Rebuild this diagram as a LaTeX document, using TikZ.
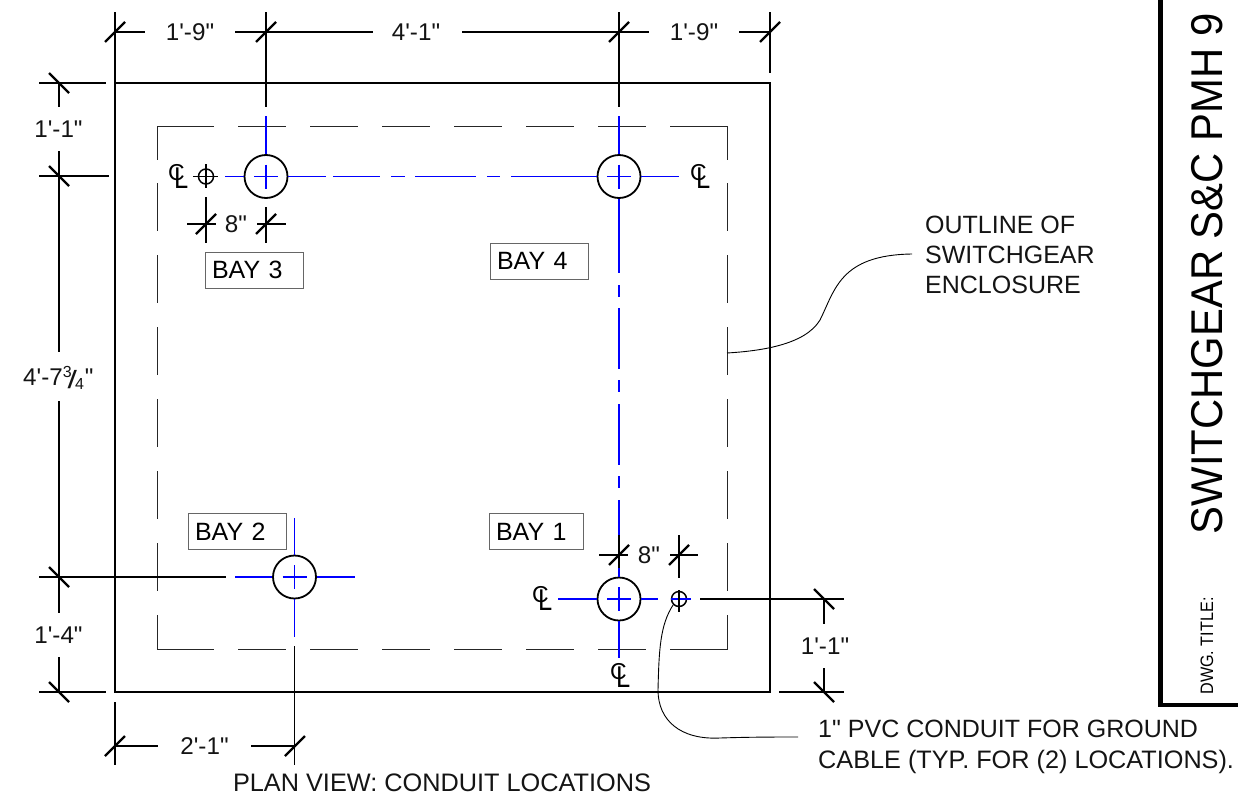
\documentclass[tikz,border=0pt]{standalone}
\usepackage{fontspec}
\newfontfamily\arl{Liberation Sans}
\tikzset{
  x=1pt,y=-1pt,
  lbl/.style={font=\arl\fontsize{25}{30}\selectfont,inner sep=0pt,text=black!92},
  lblL/.style={lbl,anchor=west},
  dimlbl/.style={lbl,font=\arl\fontsize{24.2}{30}\selectfont},
  baybox/.style={draw=black!60,line width=1pt,font=\arl\fontsize{25}{30}\selectfont,minimum height=36pt,
     text width=84pt,inner xsep=7pt,inner ysep=0pt,align=left},
  hole/.style={circle,draw=black,line width=1.8pt,minimum size=43pt,inner sep=0pt},
  smallhole/.style={circle,draw=black,line width=1.5pt,minimum size=15pt,inner sep=0pt},
  outline/.style={draw=black,line width=2pt},
  dim/.style={draw=black,line width=1.5pt},
  dimb/.style={draw=black,line width=2pt},
  tick/.style={draw=black,line width=2.4pt},
  hid/.style={draw=black!85,line width=1.25pt},
  cen/.style={draw=blue,line width=1.3pt},
  lead/.style={draw=black,line width=0.9pt},
  frame/.style={draw=black,line width=4.5pt},
  clmark/.style={font=\arl\fontsize{23}{26}\selectfont,inner sep=0pt,anchor=base west}
}
\newcommand{\clsym}{C\kern-10.6pt\raisebox{-8pt}{\fontsize{30}{32}\selectfont\scalebox{.85}[1]{L}}}
\begin{document}
\begin{tikzpicture}
\useasboundingbox (0,0) rectangle (1238,795);
% enclosure
\draw[outline] (115,83) rectangle (770,692);
% hidden outline
\draw[hid] (214,126.5)--(157.5,126.5)--(157.5,160);
\draw[hid] (670,126.5)--(727.5,126.5)--(727.5,160);
\draw[hid] (157.5,615)--(157.5,649.5)--(214,649.5);
\draw[hid] (670,649.5)--(727.5,649.5)--(727.5,615);
\foreach \a in {238,310,382,454,526,598}{
  \draw[hid] (\a,126.5)--(\a+48,126.5);
  \draw[hid] (\a,649.5)--(\a+48,649.5);}
\foreach \a in {183,255,327,399,471,543}{
  \draw[hid] (157.5,\a)--(157.5,\a+48);
  \draw[hid] (727.5,\a)--(727.5,\a+48);}
% holes
\node[hole] (h3) at (266,176.5) {};
\node[hole] (h4) at (619,176.5) {};
\node[hole] (h2) at (294.5,577) {};
\node[hole] (h1) at (619,599) {};
\node[smallhole] (g3) at (206,176.5) {};
\node[smallhole] (g1) at (679,599) {};
% centre lines
\foreach \n/\cx/\cy in {h3/266/176.5,h4/619/176.5,h2/294.5/577,h1/619/599}{
  \draw[cen] (\cx-12,\cy)--(\cx+12,\cy);
  \draw[cen] (\cx,\cy-12)--(\cx,\cy+12);}
\draw[cen] (266,116)--(h3.north);
\draw[cen] (225,176.5)--(h3.west);
\draw[cen] (h3.east)--(326,176.5);
\draw[cen] (333,176.5)--(380,176.5);
\draw[cen] (391,176.5)--(405,176.5);
\draw[cen] (415,176.5)--(476,176.5);
\draw[cen] (487,176.5)--(500,176.5);
\draw[cen] (511,176.5)--(h4.west);
\draw[cen] (h4.east)--(679,176.5);
\draw[cen] (619,116)--(h4.north);
\draw[cen] (h4.south)--(619,273);
\draw[cen] (619,285)--(619,297);
\draw[cen] (619,308)--(619,369);
\draw[cen] (619,380)--(619,392);
\draw[cen] (619,404)--(619,465);
\draw[cen] (619,476)--(619,488);
\draw[cen] (619,500)--(619,535);
\draw[cen] (619,568)--(h1.north);
\draw[cen] (h1.south)--(619,658);
\draw[cen] (558,599)--(h1.west);
\draw[cen] (h1.east)--(658,599);
\draw[cen] (671,599)--(691,599);
\draw[cen] (235,577)--(h2.west);
\draw[cen] (h2.east)--(355,577);
\draw[cen] (294.5,518)--(h2.north);
\draw[cen] (h2.south)--(294.5,637);
% small hole crosses
\draw[dim,line width=1.2pt] (193,176.5)--(218,176.5);
\draw[dim,line width=1.2pt] (206,164)--(206,188);
\draw[dim,line width=1.2pt] (679,590)--(679,612);
% dimension lines: top
\draw[dim] (115,12)--(115,83);
\draw[dim] (770,12)--(770,73);
\draw[dimb] (266,12)--(266,107);
\draw[dimb] (619,12)--(619,107);
\draw[dim] (115,32)--(145,32);
\draw[dim] (235,32)--(373,32);
\draw[dim] (462,32)--(649,32);
\draw[dim] (739,32)--(770,32);
% left
\draw[dim] (39,83)--(106,83);
\draw[dimb] (39,176)--(109,176);
\draw[dimb] (39,577)--(226,577);
\draw[dim] (39,692)--(106,692);
\draw[dim] (59,83)--(59,107);
\draw[dim] (59,151)--(59,352);
\draw[dim] (59,401)--(59,613);
\draw[dim] (59,657)--(59,692);
% 8" dims
\draw[dim] (206,197)--(206,243);
\draw[dim] (266,207)--(266,243);
\draw[dim] (187,224)--(216,224);
\draw[dim] (257,224)--(286,224);
\draw[dim] (619,535)--(619,568);
\draw[dim] (679,535)--(679,578);
\draw[dim] (599,555)--(628,555);
\draw[dim] (670,555)--(698,555);
% bottom
\draw[dim] (115,702)--(115,765);
\draw[dim] (294.5,646)--(294.5,765);
\draw[dim] (115,746)--(158,746);
\draw[dim] (251,746)--(294.5,746);
% right
\draw[dimb] (700,599)--(844,599);
\draw[dim] (779,692)--(844,692);
\draw[dim] (824,599)--(824,624);
\draw[dim] (824,668)--(824,692);
% ticks
\foreach \p in {(115,32),(266,32),(619,32),(770,32),(206,224),(266,224),(619,555),(679,555),(115,746),(295,746)}{
  \draw[tick,shift={\p}] (-10,10)--(10,-10);}
\foreach \p in {(59,83),(59,176),(59,577),(59,692),(824,599),(824,692)}{
  \draw[tick,shift={\p}] (-10,-10)--(10,10);}
% dimension text
\node[dimlbl] (d1) at (190,32) {1'-9"};
\node[dimlbl] (d2) at (416,32) {4'-1"};
\node[dimlbl] (d3) at (694,32) {1'-9"};
\node[dimlbl] (d4) at (58.5,129) {1'-1"};
\node[dimlbl,anchor=base west] (d5) at (23,385) {4'-7\raisebox{8pt}{\fontsize{16}{16}\selectfont 3}\kern-4pt\raisebox{-3pt}{\fontsize{25}{25}\selectfont\scalebox{1.35}[1]{/}}\kern-2pt\raisebox{-4pt}{\fontsize{16}{16}\selectfont 4}\kern1pt"};
\node[dimlbl] (d6) at (58.5,635) {1'-4"};
\node[dimlbl] (d7) at (204.5,746) {2'-1"};
\node[dimlbl] (d8) at (825,646) {1'-1"};
\node[dimlbl] (d9) at (236,224) {8"};
\node[dimlbl] (d10) at (649,555) {8"};
% centre-line marks
\node[clmark] (c1) at (168,180) {\clsym};
\node[clmark] (c2) at (690,180) {\clsym};
\node[clmark] (c3) at (532,602) {\clsym};
\node[clmark] (c4) at (610,679) {\clsym};
% bays
\node[baybox] (b3) at (254,270) {BAY 3};
\node[baybox] (b4) at (539,261) {BAY 4};
\node[baybox] (b2) at (237,531.5) {BAY 2};
\node[baybox,text width=80pt] (b1) at (536,531.5) {BAY 1};
% notes
\node[lblL] (n1) at (925,225) {OUTLINE OF};
\node[lblL] (n2) at (925,255) {SWITCHGEAR};
\node[lblL] (n3) at (925,285) {ENCLOSURE};
\node[lblL] (n4) at (818,729) {1" PVC CONDUIT FOR GROUND};
\node[lbl,anchor=base west,font=\arl\fontsize{25.25}{30}\selectfont] (n5) at (818,768) {CABLE (TYP. FOR (2) LOCATIONS).};
\node[lbl,font=\arl\fontsize{25.3}{30}\selectfont] (n6) at (442,783) {PLAN VIEW: CONDUIT LOCATIONS};
% leaders
\coordinate (la) at (727,353);
\coordinate (lb) at (912,254);
\coordinate (lc) at (798,737);
\draw[lead] (la) .. controls (760,351) and (805,345) .. (820,320) .. controls (835,290) and (840,255) .. (lb);
\draw[lead] (g1.south west) .. controls (660,625) and (659,650) .. (658,690) .. controls (658,720) and (680,740) .. (720,738) .. controls (750,737) and (775,737) .. (lc);
% title frame
\coordinate (fa) at (1160.5,0);
\coordinate (fb) at (1160.5,705);
\coordinate (fc) at (1238,705);
\draw[frame] (fa)--(fb)--(fc);
\node[inner sep=0pt,rotate=90,font=\arl\fontsize{44.5}{50}\selectfont] (t1) at (1207,274) {\scalebox{.94}[1]{SWITCHGEAR S\&C PMH 9}};
\node[inner sep=0pt,rotate=90,font=\arl\fontsize{18}{20}\selectfont] (t2) at (1207,646) {\scalebox{.9}[1]{DWG. TITLE:}};
\end{tikzpicture}
\end{document}
